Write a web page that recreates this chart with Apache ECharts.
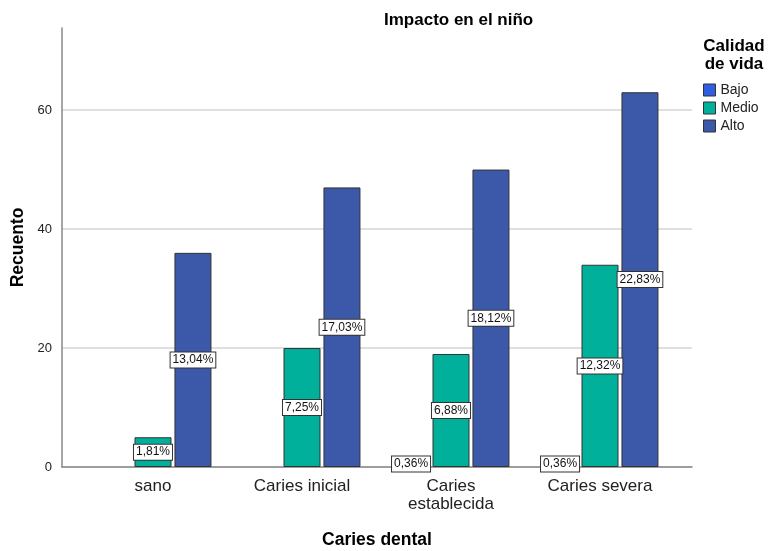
<!DOCTYPE html>
<html><head><meta charset="utf-8">
<script src="https://cdn.jsdelivr.net/npm/echarts@6/dist/echarts.min.js"></script>
<style>html,body{margin:0;padding:0;background:#fff}#c{width:768px;height:551px}</style>
</head><body><div id="c"></div>
<script>
const categories = ['sano', 'Caries inicial', 'Caries\nestablecida', 'Caries severa'];
const seriesNames = ['Bajo', 'Medio', 'Alto'];
const bajo = [0, 0, 1, 1];
const medio = [5, 20, 19, 34];
const alto = [36, 47, 50, 63];
const yTicks = [0, 20, 40, 60];
const colors = ['#2f5ee0', '#00b09b', '#3c58a8'];

const total = [...bajo, ...medio, ...alto].reduce((a, b) => a + b, 0);
const font = 'Liberation Sans, Arial, sans-serif';

function mk(vals) {
  return vals.map(v => v === 0 ? '-' : v);
}
const seriesVals = [bajo, medio, alto];

const chart = echarts.init(document.getElementById('c'));
chart.setOption({
  animation: false,
  backgroundColor: '#fff',
  title: [{
    text: 'Impacto en el niño', left: 379, top: 7,
    textStyle: { fontFamily: font, fontSize: 17, fontWeight: 'bold', color: '#000' }
  }, {
    text: 'Calidad\nde vida', left: 729, top: 32, textAlign: 'center',
    textStyle: { fontFamily: font, fontSize: 17, fontWeight: 'bold', color: '#000', lineHeight: 18, align: 'center' }
  }],
  legend: {
    data: seriesNames, orient: 'vertical', left: 698, top: 78,
    itemWidth: 12, itemHeight: 12, itemGap: 4, icon: 'rect',
    textStyle: { fontFamily: font, fontSize: 14, color: '#222', lineHeight: 12 },
    itemStyle: { borderColor: '#333', borderWidth: 1 }
  },
  grid: [
    { left: 78.5, right: 93.5, top: 28, bottom: 84, outerBoundsMode: 'none', containLabel: false },
    { left: 62, right: 76, top: 28, bottom: 84, outerBoundsMode: 'none', containLabel: false }
  ],
  xAxis: [
    {
      type: 'category', gridIndex: 0, data: categories,
      axisLine: { show: false }, axisTick: { show: false },
      axisLabel: { fontFamily: font, fontSize: 17, color: '#222', margin: 10, lineHeight: 18 }
    },
    {
      type: 'category', gridIndex: 1, data: [''],
      axisLine: { lineStyle: { color: '#888', width: 1.5 } }, axisTick: { show: false },
      axisLabel: { show: false },
      name: 'Caries dental', nameLocation: 'middle', nameGap: 64,
      nameTextStyle: { fontFamily: font, fontSize: 17.5, fontWeight: 'bold', color: '#000' }
    }
  ],
  yAxis: [
    {
      type: 'value', gridIndex: 0, min: 0, max: 73.8, show: false
    },
    {
      type: 'value', gridIndex: 1, min: 0, max: 73.8, interval: 20,
      axisLine: { show: true, lineStyle: { color: '#888', width: 1.5 } },
      axisTick: { show: false },
      axisLabel: {
        fontFamily: font, fontSize: 13, color: '#222', margin: 10, showMaxLabel: false,
        formatter: v => yTicks.includes(v) ? String(v) : ''
      },
      splitLine: { show: true, showMaxLine: false, lineStyle: { color: '#d4d4d4', width: 1.5 } },
      name: 'Recuento', nameLocation: 'middle', nameGap: 35, nameMoveOverlap: false,
      nameTextStyle: { fontFamily: font, fontSize: 17.5, fontWeight: 'bold', color: '#000' }
    }
  ],
  series: seriesNames.map((n, i) => ({
    name: n, type: 'bar', xAxisIndex: 0, yAxisIndex: 0,
    data: mk(seriesVals[i]),
    barWidth: 37, barGap: '8%',
    itemStyle: { color: colors[i], borderColor: '#333', borderWidth: 1 },
    label: {
      show: true, position: 'inside', fontFamily: font, fontSize: 12, color: '#111',
      backgroundColor: '#fff', borderColor: '#333', borderWidth: 1, padding: [2, 2, 1, 2],
      formatter: p => (p.value / total * 100).toFixed(2).replace('.', ',') + '%'
    }
  })).concat([{
    type: 'bar', xAxisIndex: 1, yAxisIndex: 1, data: [], silent: true
  }])
});
</script>
</body></html>
